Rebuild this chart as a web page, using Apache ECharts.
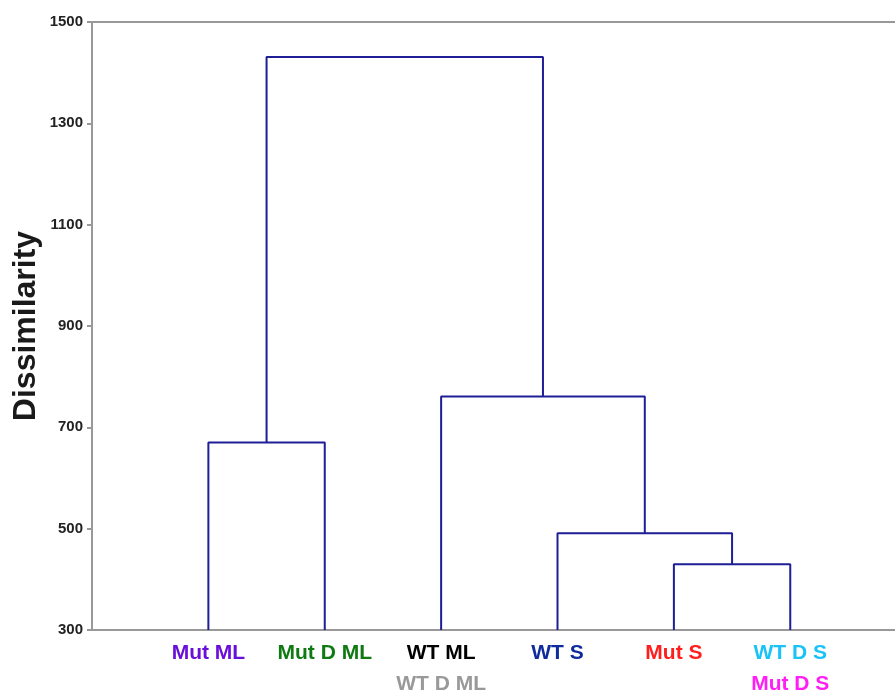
<!DOCTYPE html>
<html>
<head>
<meta charset="utf-8">
<script src="https://cdn.jsdelivr.net/npm/echarts@6/dist/echarts.min.js"></script>
<style>
  html, body { margin: 0; padding: 0; background: #fff; }
  #chart { width: 895px; height: 691px; }
</style>
</head>
<body>
<div id="chart"></div>
<script>
// leaves, left to right (position 1..6); second line = sample sharing the leaf
const leafTop = ['Mut ML', 'Mut D ML', 'WT ML', 'WT S', 'Mut S', 'WT D S'];
const leafBottom = ['', '', 'WT D ML', '', '', 'Mut D S'];
const leafTopColors = ['#6a0fd8', '#0f7a12', '#000000', '#102c9c', '#ff1e1e', '#19c3f7'];
const leafBottomColors = ['', '', '#999999', '', '', '#ff1ef5'];

// merges: [left node, right node, dissimilarity]; nodes 0-5 are leaves, 6+ are merges
const merges = [
  [0, 1, 670],
  [4, 5, 430],
  [3, 7, 491],
  [2, 8, 761],
  [6, 9, 1431]
];

const yTicks = [300, 500, 700, 900, 1100, 1300, 1500];
const baseY = 300;

// node positions
const nodeX = leafTop.map((_, i) => i + 1);
const nodeH = leafTop.map(() => baseY);
const series = merges.map(([a, b, h]) => {
  const seg = [[nodeX[a], nodeH[a]], [nodeX[a], h], [nodeX[b], h], [nodeX[b], nodeH[b]]];
  nodeX.push((nodeX[a] + nodeX[b]) / 2);
  nodeH.push(h);
  return {
    type: 'line',
    data: seg,
    symbol: 'none',
    silent: true,
    lineStyle: { color: '#1e1e96', width: 2 }
  };
});

const rich = {};
const labelFont = { fontSize: 21, fontWeight: 'bold', lineHeight: 31, fontFamily: 'Liberation Sans' };
leafTopColors.forEach((c, i) => { rich['t' + i] = Object.assign({ color: c }, labelFont); });
leafBottomColors.forEach((c, i) => { if (c) rich['b' + i] = Object.assign({ color: c }, labelFont); });

const chart = echarts.init(document.getElementById('chart'));
chart.setOption({
  animation: false,
  grid: { left: 92, right: 0, top: 22, bottom: 61, outerBoundsMode: 'none' },
  xAxis: [
    {
      type: 'value',
      min: 0,
      max: 6.9,
      interval: 1,
      splitLine: { show: false },
      axisTick: { show: false },
      axisLine: { lineStyle: { color: '#999', width: 2 } },
      axisLabel: {
        margin: 8,
        showMaxLabel: false,
        formatter: v => {
          const i = Math.round(v) - 1;
          if (i < 0 || i >= leafTop.length) return '';
          let s = '{t' + i + '|' + leafTop[i] + '}';
          if (leafBottom[i]) s += '\n{b' + i + '|' + leafBottom[i] + '}';
          return s;
        },
        rich: rich
      }
    },
    {
      type: 'value',
      position: 'top',
      min: 0,
      max: 6.9,
      axisLine: { show: true, lineStyle: { color: '#999', width: 2 } },
      axisTick: { show: false },
      axisLabel: { show: false },
      splitLine: { show: false }
    }
  ],
  yAxis: {
    type: 'value',
    min: yTicks[0],
    max: yTicks[yTicks.length - 1],
    interval: 200,
    name: 'Dissimilarity',
    nameLocation: 'middle',
    nameGap: 50,
    nameMoveOverlap: false,
    nameTextStyle: { fontSize: 32, fontWeight: 'bold', color: '#1a1a1a', fontFamily: 'Liberation Sans' },
    splitLine: { show: false },
    axisLine: { show: true, lineStyle: { color: '#999', width: 2 } },
    axisTick: { show: true, length: 5, lineStyle: { color: '#999', width: 2 } },
    axisLabel: {
      margin: 9, fontSize: 15, fontWeight: 'bold', color: '#222', fontFamily: 'Liberation Sans',
      formatter: v => String(v)
    }
  },
  series: series
});
</script>
</body>
</html>
